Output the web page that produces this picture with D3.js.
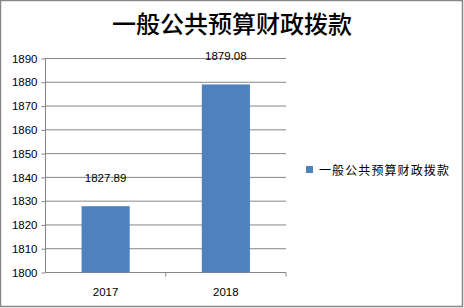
<!DOCTYPE html>
<html>
<head>
<meta charset="utf-8">
<script src="https://cdn.jsdelivr.net/npm/d3@7"></script>
<style>
  html, body { margin: 0; padding: 0; background: #fff; }
  svg { display: block; }
</style>
</head>
<body>
<div id="chart"></div>
<script>
const title = "一般公共预算财政拨款";
const categories = ["2017", "2018"];
const values = [1827.89, 1879.08];
const valueLabels = ["1827.89", "1879.08"];
const yTicks = [1800, 1810, 1820, 1830, 1840, 1850, 1860, 1870, 1880, 1890];

const width = 464;
const height = 308;
const plot = { left: 45.5, right: 286, top: 58.5, bottom: 272.5 };
const gridColor = "#868686";
const barColor = "#4f81bd";
const numFont = "'Liberation Sans', Arial, sans-serif";
const cjkFont = "'Noto Sans CJK SC', sans-serif";

const svg = d3
  .select("#chart")
  .append("svg")
  .attr("width", width)
  .attr("height", height);

// frame
svg
  .append("rect")
  .attr("x", 0.5)
  .attr("y", 0.5)
  .attr("width", 462)
  .attr("height", 306)
  .attr("fill", "#fff")
  .attr("stroke", "#878787")
  .attr("stroke-width", 1.5);

svg
  .append("text")
  .attr("x", 232)
  .attr("y", 33)
  .attr("text-anchor", "middle")
  .style("font-family", cjkFont)
  .style("font-size", "24px")
  .style("font-weight", 500)
  .text(title);

const x = d3
  .scaleBand()
  .domain(categories)
  .range([plot.left, plot.right])
  .padding(0);

const y = d3
  .scaleLinear()
  .domain([1800, 1890])
  .range([plot.bottom, plot.top]);

// horizontal gridlines
svg
  .append("g")
  .selectAll("line")
  .data(yTicks)
  .enter()
  .append("line")
  .attr("x1", plot.left)
  .attr("x2", plot.right)
  .attr("y1", (d) => y(d))
  .attr("y2", (d) => y(d))
  .attr("stroke", gridColor)
  .attr("stroke-width", 1);

// y axis
const yAxis = svg
  .append("g")
  .attr("transform", `translate(${plot.left},0)`)
  .call(d3.axisLeft(y).tickValues(yTicks).tickSize(4).tickPadding(4).tickFormat(d3.format("d")));
yAxis.select(".domain").attr("stroke", gridColor).attr("d", `M0,${plot.top}V${plot.bottom}`);
yAxis.selectAll(".tick line").attr("stroke", gridColor);
yAxis
  .selectAll(".tick text")
  .attr("fill", "#000")
  .style("font-family", numFont)
  .style("font-size", "11.5px");

// x axis
const xAxis = svg
  .append("g")
  .attr("transform", `translate(0,${plot.bottom})`)
  .call(d3.axisBottom(x).tickSize(0).tickPadding(15));
xAxis.select(".domain").attr("stroke", gridColor).attr("d", `M${plot.left},0H${plot.right}`);
xAxis
  .selectAll(".tick text")
  .attr("fill", "#000")
  .style("font-family", numFont)
  .style("font-size", "11.5px");

// category separators
svg
  .append("g")
  .selectAll("line")
  .data(categories.slice(1).concat(["end"]))
  .enter()
  .append("line")
  .attr("x1", (d, i) => (i < categories.length - 1 ? x(d) : plot.right))
  .attr("x2", (d, i) => (i < categories.length - 1 ? x(d) : plot.right))
  .attr("y1", plot.bottom)
  .attr("y2", plot.bottom + 4)
  .attr("stroke", gridColor);

const barW = x.bandwidth() * 0.4;

svg
  .selectAll(".bar")
  .data(categories)
  .enter()
  .append("rect")
  .attr("class", "bar")
  .attr("x", (d) => x(d) + (x.bandwidth() - barW) / 2)
  .attr("width", barW)
  .attr("y", (d, i) => y(values[i]))
  .attr("height", (d, i) => plot.bottom - y(values[i]))
  .attr("fill", barColor);

svg
  .selectAll(".value-label")
  .data(categories)
  .enter()
  .append("text")
  .attr("class", "value-label")
  .attr("x", (d) => x(d) + x.bandwidth() / 2)
  .attr("y", (d, i) => y(values[i]) - 24)
  .attr("text-anchor", "middle")
  .style("font-family", numFont)
  .style("font-size", "11.5px")
  .text((d, i) => valueLabels[i]);

// legend
const legend = svg.append("g").attr("transform", "translate(306,166)");
legend.append("rect").attr("width", 7).attr("height", 7).attr("fill", barColor);
legend
  .append("text")
  .attr("x", 13)
  .attr("y", 8.5)
  .style("font-family", cjkFont)
  .style("font-size", "12px")
  .style("letter-spacing", "1.1px")
  .text(title);
</script>
</body>
</html>
